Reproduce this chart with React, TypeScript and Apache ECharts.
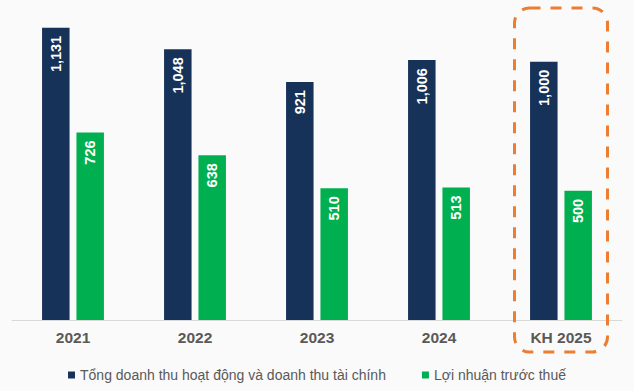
import React, { useEffect, useRef } from "react";
import * as echarts from "echarts";

const categories = ["2021", "2022", "2023", "2024", "KH 2025"];
const revenue = [1131, 1048, 921, 1006, 1000];
const profit = [726, 638, 510, 513, 500];
const seriesNames = [
  "Tổng doanh thu hoạt động và doanh thu tài chính",
  "Lợi nhuận trước thuế",
];
const highlightCategory = "KH 2025";

const FONT = "'Liberation Sans', Arial, sans-serif";

export default function App() {
  const ref = useRef<HTMLDivElement>(null);
  useEffect(() => {
    if (!ref.current) return;
    const chart = echarts.init(ref.current, null, { renderer: "svg" });
    const label = {
      show: true,
      position: "insideTop" as const,
      rotate: 90,
      align: "right" as const,
      verticalAlign: "middle" as const,
      distance: 8,
      color: "#ffffff",
      fontWeight: "bold" as const,
      fontSize: 14.5,
      fontFamily: FONT,
      formatter: (p: any) => Number(p.value).toLocaleString("en-US"),
    };
    chart.setOption({
      animation: false,
      backgroundColor: "#FAFAFA",
      textStyle: { fontFamily: FONT },
      grid: { left: 12, right: 12, top: 10, bottom: 71, containLabel: false },
      legend: {
        top: 362,
        left: "center",
        icon: "rect",
        itemWidth: 7,
        itemHeight: 7,
        itemGap: 36,
        textStyle: { fontSize: 14, color: "#595959", fontFamily: FONT, lineHeight: 16 },
        data: seriesNames,
      },
      xAxis: {
        type: "category",
        data: categories,
        axisLine: { show: true, lineStyle: { color: "#D9D9D9", width: 1 } },
        axisTick: { show: false },
        axisLabel: {
          color: "#595959",
          fontWeight: "bold",
          fontSize: 15.5,
          fontFamily: FONT,
          margin: 9,
        },
      },
      yAxis: {
        type: "value",
        min: 0,
        max: 1200,
        show: false,
        splitLine: { show: false },
      },
      series: [
        {
          name: seriesNames[0],
          type: "bar",
          data: revenue,
          barWidth: 27.5,
          barGap: "25%",
          itemStyle: { color: "#163259" },
          label,
        },
        {
          name: seriesNames[1],
          type: "bar",
          data: profit,
          barWidth: 27.5,
          barGap: "25%",
          itemStyle: { color: "#00B050" },
          label,
        },
      ],
    });
    const cx = chart.convertToPixel({ xAxisIndex: 0 }, highlightCategory) as number;
    const w = 93;
    chart.setOption({
      graphic: [
        {
          type: "rect",
          shape: { x: cx - w / 2, y: 8, width: w, height: 344, r: 15 },
          style: { fill: "none", stroke: "#ED7D31", lineWidth: 3, lineDash: [11, 10] },
          z: 100,
        },
      ],
    });
    return () => chart.dispose();
  }, []);
  return (
    <div
      ref={ref}
      style={{ position: "fixed", left: 0, top: 0, width: 634, height: 391 }}
    />
  );
}
